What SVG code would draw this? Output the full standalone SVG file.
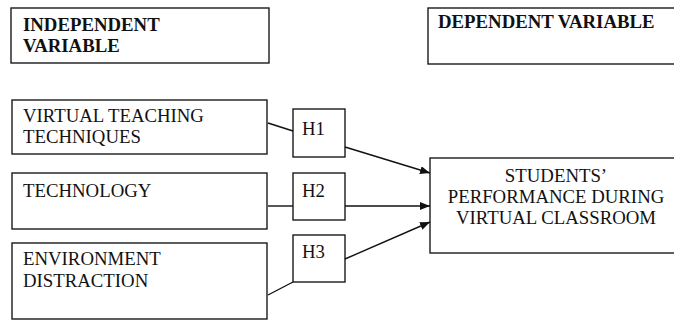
<svg xmlns="http://www.w3.org/2000/svg" width="674" height="320" viewBox="0 0 674 320" font-family="Liberation Serif, serif">
<defs>
<style>
.box{fill:#fff;stroke:#1a1a1a;stroke-width:1.4}
.t{font-family:'Liberation Serif',serif;font-size:18.8px;fill:#111}
.b{font-weight:bold}
.ln{stroke:#111;stroke-width:1.4;fill:none}
</style>
<marker id="ah" viewBox="0 0 10 8" refX="10" refY="4" markerWidth="10" markerHeight="8" markerUnits="userSpaceOnUse" orient="auto">
<path d="M0,0 L10,4 L0,8 Z" fill="#111"/>
</marker>
</defs>
<rect width="674" height="320" fill="#fff"/>
<g id="independent">
<rect class="box" x="11" y="8" width="258" height="55"/>
<text class="t b" x="23" y="31">INDEPENDENT</text>
<text class="t b" x="23" y="52">VARIABLE</text>
</g>
<g id="dependent">
<rect class="box" x="428" y="8" width="252" height="56"/>
<text class="t b" x="438" y="28">DEPENDENT VARIABLE</text>
</g>
<g id="vtt">
<rect class="box" x="12" y="100" width="255" height="54"/>
<text class="t" x="23" y="122">VIRTUAL TEACHING</text>
<text class="t" x="23" y="143">TECHNIQUES</text>
</g>
<g id="tech">
<rect class="box" x="12" y="173" width="255" height="56"/>
<text class="t" x="23" y="197">TECHNOLOGY</text>
</g>
<g id="env">
<rect class="box" x="12" y="243" width="255" height="76"/>
<text class="t" x="23" y="265">ENVIRONMENT</text>
<text class="t" x="23" y="287">DISTRACTION</text>
</g>
<g id="h1">
<rect class="box" x="293" y="109" width="52" height="48"/>
<text class="t" x="302" y="135">H1</text>
</g>
<g id="h2">
<rect class="box" x="293" y="173" width="52" height="47"/>
<text class="t" x="302" y="197">H2</text>
</g>
<g id="h3">
<rect class="box" x="293" y="235" width="52" height="47"/>
<text class="t" x="302" y="258">H3</text>
</g>
<g id="students">
<rect class="box" x="430" y="158" width="250" height="95"/>
<text class="t" x="556" y="182" text-anchor="middle">STUDENTS’</text>
<text class="t" x="556" y="203" text-anchor="middle">PERFORMANCE DURING</text>
<text class="t" x="556" y="224" text-anchor="middle">VIRTUAL CLASSROOM</text>
</g>
<g id="connectors">
<line class="ln" x1="268" y1="123" x2="293" y2="131"/>
<line class="ln" x1="345" y1="147" x2="430" y2="173" marker-end="url(#ah)"/>
<line class="ln" x1="268" y1="206" x2="293" y2="206"/>
<line class="ln" x1="345" y1="206" x2="430" y2="206" marker-end="url(#ah)"/>
<line class="ln" x1="268" y1="295" x2="293" y2="282"/>
<line class="ln" x1="345" y1="259" x2="430" y2="222" marker-end="url(#ah)"/>
</g>
</svg>
